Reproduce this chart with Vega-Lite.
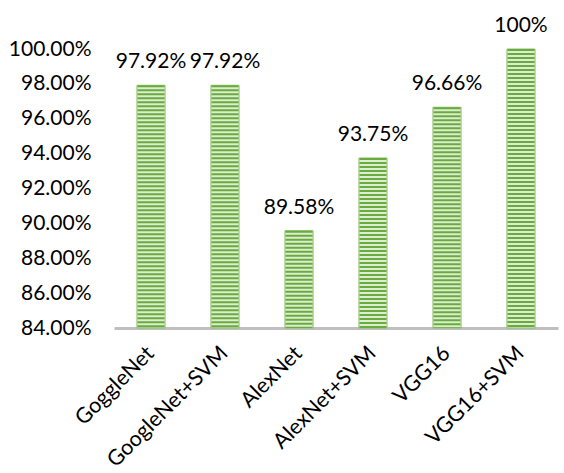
{
  "$schema": "https://vega.github.io/schema/vega-lite/v6.json",
  "width": 444,
  "height": 279,
  "autosize": "none",
  "padding": {"left": 114, "top": 49, "right": 6, "bottom": 145},
  "background": "white",
  "config": {"view": {"stroke": null}, "font": "Lato"},
  "data": {"values": [
    {"model": "GoggleNet", "acc": 97.92, "label": "97.92%"},
    {"model": "GoogleNet+SVM", "acc": 97.92, "label": "97.92%"},
    {"model": "AlexNet", "acc": 89.58, "label": "89.58%"},
    {"model": "AlexNet+SVM", "acc": 93.75, "label": "93.75%"},
    {"model": "VGG16", "acc": 96.66, "label": "96.66%"},
    {"model": "VGG16+SVM", "acc": 100, "label": "100%"}
  ]},
  "encoding": {
    "x": {"field": "model", "type": "nominal", "sort": null,
      "scale": {"paddingInner": 0.62, "paddingOuter": 0.31},
      "axis": {"title": null, "labelAngle": -45, "labelAlign": "right", "labelBaseline": "middle", "labelFont": "Lato", "labelFontSize": 21.5, "labelColor": "#000000",
        "ticks": false, "labelPadding": 22, "domainColor": "#bfbfbf", "domainWidth": 3}},
    "y": {"field": "acc", "type": "quantitative",
      "scale": {"domain": [84, 100], "zero": false, "nice": false},
      "axis": {"title": null, "values": [84, 86, 88, 90, 92, 94, 96, 98, 100], "grid": false, "domain": false, "ticks": false, "tickSize": 0,
        "labelPadding": 23, "labelFont": "Lato", "labelFontSize": 21, "labelColor": "#000000",
        "labelExpr": "format(datum.value, '.2f') + '%'"}}
  },
  "layer": [
    {"mark": {"type": "bar", "fill": "#dcedd0", "stroke": "#8cc167", "strokeWidth": 1},
     "encoding": {"y2": {"datum": 84}}},
    {"mark": {"type": "rule", "strokeWidth": 27, "strokeDash": [2, 2], "color": "#6aab3f"},
     "encoding": {"y2": {"datum": 84}}},
    {"mark": {"type": "text", "baseline": "alphabetic", "dy": -17, "font": "Lato", "fontSize": 21, "color": "#000000"},
     "encoding": {"text": {"field": "label"}}}
  ]
}
